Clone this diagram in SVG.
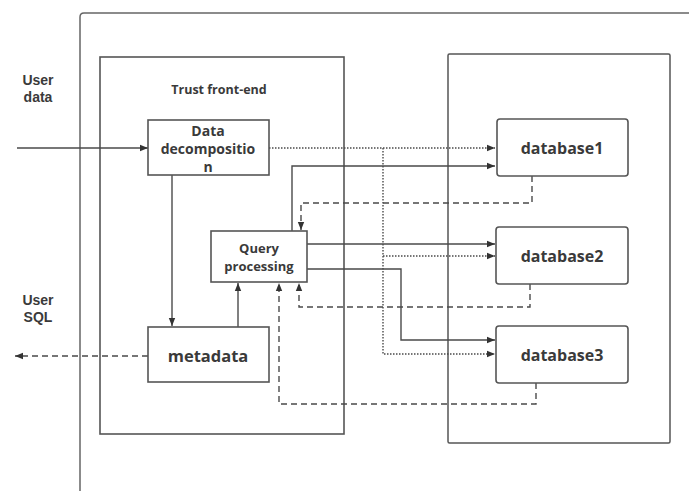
<svg xmlns="http://www.w3.org/2000/svg" width="689" height="491" viewBox="0 0 689 491">
<defs>
<style>
.box{fill:#fff;stroke:#555;stroke-width:1.6}
.frame{fill:none;stroke:#666;stroke-width:1.5}
.t{font-family:"Open Sans","Noto Sans",sans-serif;font-weight:bold;fill:#3a3a3a;text-anchor:middle}
.u{font-family:"Liberation Sans",Arial,sans-serif;font-weight:bold;fill:#3a3a3a;text-anchor:middle}
.ln{fill:none;stroke:#4a4a4a;stroke-width:1.4}
.dash{stroke-dasharray:6,4}
.dot{stroke-dasharray:1.5,1.5}
</style>
<marker id="ah" viewBox="0 0 10 10" refX="10" refY="5" markerWidth="10" markerHeight="8" markerUnits="userSpaceOnUse" orient="auto">
<path d="M0,1 L10,5 L0,9 Z" fill="#333"/>
</marker>
</defs>
<rect width="689" height="491" fill="#fff"/>
<g id="outer-frame">
<path class="frame" d="M80,491 L80,17 Q80,13 84,13 L689,13"/>
</g>
<g id="trust-front-end">
<rect class="frame" x="100" y="57" width="244" height="377" style="stroke:#555;stroke-width:1.6"/>
<text class="t" x="219" y="94" font-size="12.5">Trust front-end</text>
</g>
<g id="db-container">
<rect class="frame" x="448" y="54" width="222" height="389" rx="1.5" style="stroke:#555"/>
</g>
<g id="labels">
<text class="u" x="38" y="85" font-size="14">User</text>
<text class="u" x="38" y="102" font-size="14">data</text>
<text class="u" x="38" y="305" font-size="14">User</text>
<text class="u" x="38" y="322" font-size="14">SQL</text>
</g>
<g id="connectors">
<path class="ln" d="M17,148 L148,148" marker-end="url(#ah)"/>
<path class="ln dot" d="M269,148 L495,148" marker-end="url(#ah)"/>
<path class="ln dot" d="M383,148 L383,354 L495,354" marker-end="url(#ah)"/>
<path class="ln dot" d="M383,256 L495,256" marker-end="url(#ah)"/>
<path class="ln" d="M292,231 L292,166 L495,166" marker-end="url(#ah)"/>
<path class="ln" d="M307,244 L495,244" marker-end="url(#ah)"/>
<path class="ln" d="M307,269 L401,269 L401,340 L495,340" marker-end="url(#ah)"/>
<path class="ln" d="M172,175 L172,326" marker-end="url(#ah)"/>
<path class="ln" d="M238,327 L238,283" marker-end="url(#ah)"/>
<path class="ln dash" d="M532,176 L532,203 L301,203 L301,230" marker-end="url(#ah)"/>
<path class="ln dash" d="M530,284 L530,307 L299,307 L299,283" marker-end="url(#ah)"/>
<path class="ln dash" d="M536,383 L536,404 L279,404 L279,283" marker-end="url(#ah)"/>
<path class="ln dash" d="M148,356 L15,356" marker-end="url(#ah)"/>
</g>
<g id="data-decomposition">
<rect class="box" x="148" y="120" width="121" height="55"/>
<text class="t" x="208" y="136" font-size="14">Data</text>
<text class="t" x="208" y="154" font-size="14">decompositio</text>
<text class="t" x="208" y="172" font-size="14">n</text>
</g>
<g id="query-processing">
<rect class="box" x="211" y="231" width="96" height="51"/>
<text class="t" x="259" y="253" font-size="13">Query</text>
<text class="t" x="259" y="271" font-size="13">processing</text>
</g>
<g id="metadata">
<rect class="box" x="148" y="327" width="121" height="55"/>
<text class="t" x="208" y="362" font-size="16.5">metadata</text>
</g>
<g id="database1">
<rect class="box" x="497" y="119" width="131" height="57" rx="3"/>
<text class="t" x="562" y="154" font-size="16">database1</text>
</g>
<g id="database2">
<rect class="box" x="496" y="227" width="132" height="57" rx="3"/>
<text class="t" x="562" y="262" font-size="16">database2</text>
</g>
<g id="database3">
<rect class="box" x="496" y="326" width="132" height="57" rx="3"/>
<text class="t" x="562" y="361" font-size="16">database3</text>
</g>
</svg>
